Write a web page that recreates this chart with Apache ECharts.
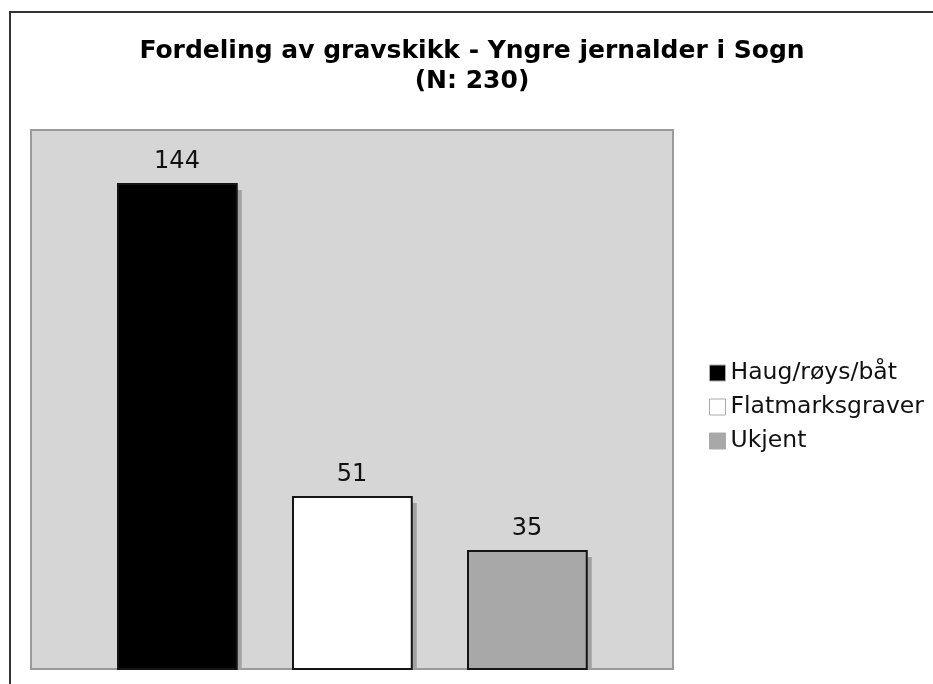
<!DOCTYPE html>
<html>
<head>
<meta charset="utf-8">
<script src="https://cdn.jsdelivr.net/npm/echarts@6/dist/echarts.min.js"></script>
<style>html,body{margin:0;padding:0;background:#fff;}#c{width:933px;height:684px;}</style>
</head>
<body>
<div id="c"></div>
<script>
const titleLines = ['Fordeling av gravskikk - Yngre jernalder i Sogn', '(N: 230)'];
const categories = [''];
const seriesNames = ['Haug/røys/båt', 'Flatmarksgraver', 'Ukjent'];
const seriesValues = [144, 51, 35];
const seriesColors = ['#000000', '#ffffff', '#a8a8a8'];
const yMin = 0, yMax = 160;

// layout as fractions of the category band
const barFrac = 0.185;
const offsetFrac = [-0.2726, 0, 0.2726];

const chart = echarts.init(document.getElementById('c'));

function makeRender(i) {
  return function (params, api) {
    const band = api.size([1, 0])[0];
    const base = api.coord([api.value(0), 0]);
    const topPt = api.coord([api.value(0), api.value(1)]);
    const bw = band * barFrac;
    const cx = base[0] + offsetFrac[i] * band;
    const x0 = Math.round(cx - bw / 2);
    const yTop = Math.round(topPt[1]);
    const yBot = Math.round(base[1]);
    return {
      type: 'group',
      children: [
        {
          type: 'rect',
          shape: { x: x0 + 5, y: yTop + 6, width: bw, height: yBot - yTop - 6 },
          style: { fill: '#a2a2a2' }
        },
        {
          type: 'rect',
          shape: { x: x0, y: yTop, width: bw, height: yBot - yTop },
          style: { fill: seriesColors[i], stroke: '#151515', lineWidth: 2 }
        },
        {
          type: 'text',
          style: {
            text: String(api.value(1)),
            x: cx, y: yTop - 22,
            align: 'center', verticalAlign: 'middle',
            fill: '#111',
            font: '24px "DejaVu Sans"'
          }
        }
      ]
    };
  };
}

const series = seriesNames.map((name, i) => ({
  name: name,
  type: 'custom',
  renderItem: makeRender(i),
  data: [[0, seriesValues[i]]],
  encode: { x: 0, y: 1 },
  itemStyle: { color: seriesColors[i] }
}));

chart.setOption({
  animation: false,
  backgroundColor: '#ffffff',
  title: {
    text: titleLines.join('\n'),
    left: 467,
    textAlign: 'center',
    top: 31,
    textStyle: {
      fontFamily: 'DejaVu Sans',
      fontWeight: 'bold',
      fontSize: 25,
      lineHeight: 30,
      color: '#000'
    }
  },
  graphic: [{
    type: 'rect',
    shape: { x: 10, y: 12, width: 1000, height: 1000 },
    style: { fill: 'none', stroke: '#333', lineWidth: 2 },
    z: 100
  }],
  grid: {
    left: 31, top: 130, width: 642, height: 539,
    show: true, backgroundColor: '#d6d6d6', borderColor: '#9a9a9a', borderWidth: 2
  },
  legend: {
    orient: 'vertical',
    left: 704, top: 356,
    itemWidth: 16, itemHeight: 16, itemGap: 10,
    icon: 'rect',
    textStyle: { fontFamily: 'DejaVu Sans', fontSize: 23.5, lineHeight: 24, color: '#111' },
    itemStyle: { borderColor: '#aaa', borderWidth: 1 },
    data: seriesNames
  },
  xAxis: {
    type: 'category', data: categories,
    axisLine: { show: false }, axisTick: { show: false }, axisLabel: { show: false }
  },
  yAxis: {
    type: 'value', min: yMin, max: yMax,
    show: false, splitLine: { show: false }
  },
  series: series
});
</script>
</body>
</html>
